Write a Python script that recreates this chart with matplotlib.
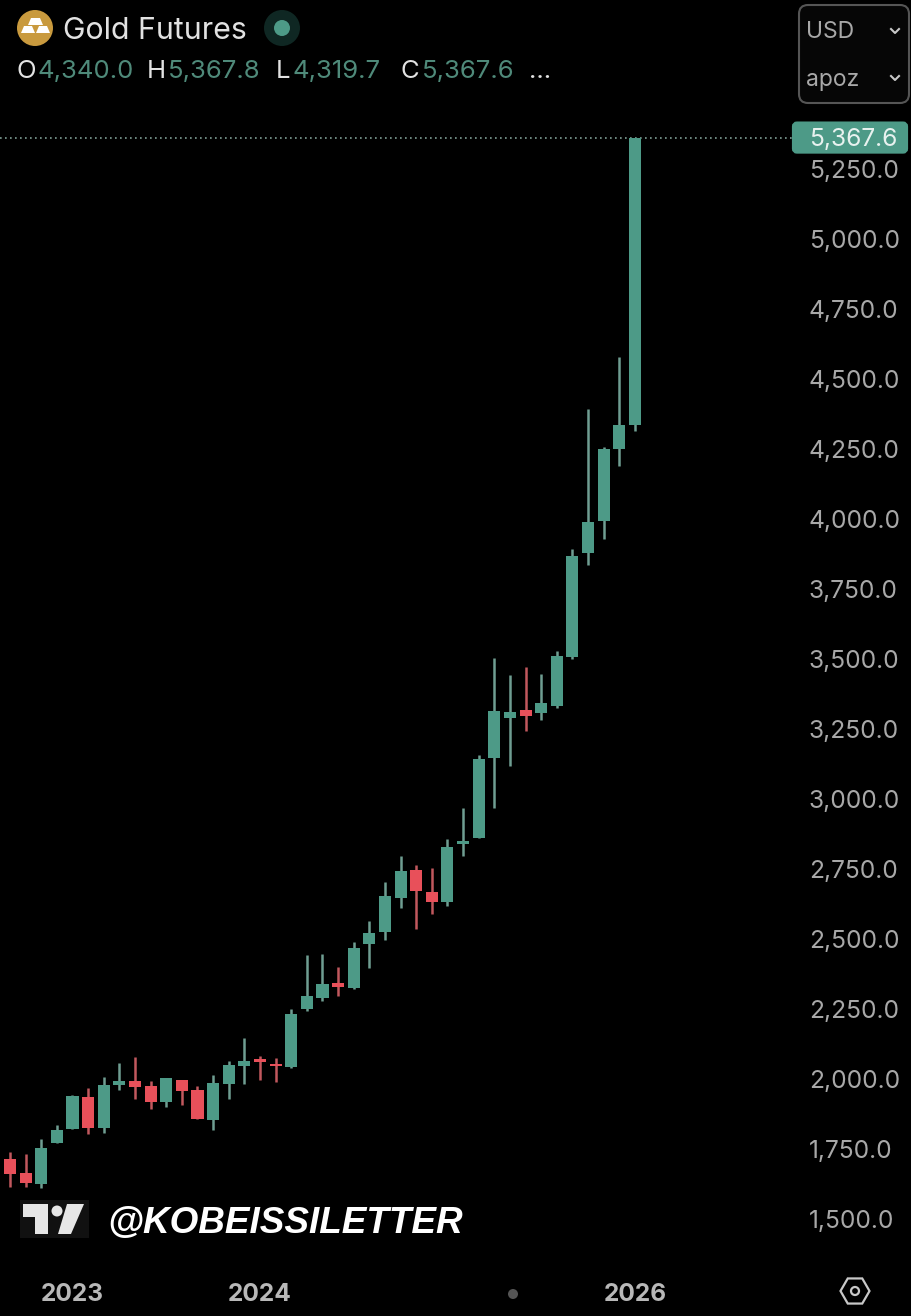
import matplotlib
matplotlib.use('Agg')
import math
import matplotlib.pyplot as plt
from matplotlib.patches import Circle, FancyBboxPatch, Polygon, Rectangle, RegularPolygon
from matplotlib.transforms import ScaledTranslation

# monthly candles
opens = [1720, 1670, 1630, 1778, 1828, 1941, 1830, 1984, 1998, 1980, 1923, 2002, 1966, 1859,
         1989, 2052, 2076, 2060, 2048, 2255, 2295, 2349, 2330, 2488, 2530, 2652, 2753, 2673,
         2638, 2845, 2866, 3152, 3295, 3323, 3313, 3338, 3513, 3884, 3998, 4255, 4340.0]
highs = [1744, 1738, 1790, 1841, 1948, 1972, 2011, 2061, 2084, 1998, 2008, 2002, 1979, 2020,
         2070, 2152, 2088, 2080, 2255, 2448, 2452, 2405, 2494, 2569, 2708, 2801, 2770, 2759,
         2863, 2973, 3161, 3508, 3448, 3477, 3452, 3534, 3898, 4398, 4263, 4584, 5367.8]
lows = [1621, 1621, 1617, 1778, 1828, 1810, 1814, 1966, 1935, 1898, 1906, 1913, 1863, 1823,
        1934, 1989, 2002, 1995, 2045, 2249, 2285, 2302, 2327, 2402, 2502, 2615, 2541, 2595,
        2623, 2802, 2866, 2973, 3123, 3248, 3288, 3330, 3505, 3841, 3934, 4195, 4319.7]
closes = [1666, 1634, 1759, 1823, 1945, 1830, 1983, 1998, 1977, 1923, 2008, 1963, 1863, 1991,
          2055, 2070, 2066, 2052, 2238, 2302, 2345, 2333, 2473, 2527, 2659, 2748, 2677, 2638,
          2834, 2854, 3147, 3320, 3316, 3302, 3348, 3516, 3873, 3995, 4255, 4341, 5367.6]

price_ticks = [1500, 1750, 2000, 2250, 2500, 2750, 3000, 3250, 3500, 3750, 4000, 4250, 4500, 4750, 5000, 5250]
year_pos = [4, 16, 40]
year_labels = ['2023', '2024', '2026']

GREEN = '#4d9a87'
GREEN_WICK = '#6f9e92'
GREEN_TEXT = '#4f8a7a'
RED = '#e8505a'
RED_WICK = '#c2585e'
GREY = '#a8a8a8'
LIGHT = '#e2e2e2'
FONT = 'Inter'

W, H = 912, 1316
fig = plt.figure(figsize=(W / 100, H / 100), dpi=100, facecolor='black')

# main chart, right edge is the price scale
ax = fig.add_axes([0, (H - 1260) / H, 792 / W, 1145 / H], facecolor='black')
for s in ax.spines.values():
    s.set_visible(False)

for i in range(len(opens)):
    up = closes[i] >= opens[i]
    ax.vlines(i, lows[i], highs[i], color=GREEN_WICK if up else RED_WICK, linewidth=1.8, zorder=2)
    ax.bar(i, abs(closes[i] - opens[i]), bottom=min(opens[i], closes[i]), width=0.77,
           color=GREEN if up else RED, linewidth=0, zorder=3)

ax.set_xlim(-0.64, 50.05)
ax.set_ylim(1358.9, 5448.2)
ax.yaxis.tick_right()
ax.set_yticks(price_ticks)
ax.set_yticklabels([f'{p:,.1f}' for p in price_ticks], fontsize=17.7, color=GREY, family=FONT)
ax.set_xticks(year_pos)
ax.set_xticklabels(year_labels, fontsize=17.6, color='#b8b8b8', family=FONT, fontweight='bold')
ax.tick_params(axis='y', length=0, pad=12)
ax.tick_params(axis='x', length=0, pad=16.5)

# scale labels sit a little above their price level
up_shift = ScaledTranslation(0, 1.5 / 100, fig.dpi_scale_trans)
for label in ax.get_yticklabels():
    label.set_transform(label.get_transform() + up_shift)

ax.axhline(closes[-1], color='#7f9f95', linewidth=1.2, linestyle=(0, (1, 2)), zorder=1)

# overlay in pixel coordinates for header, logo and buttons
ov = fig.add_axes([0, 0, 1, 1], facecolor='none')
ov.set_xlim(0, W)
ov.set_ylim(H, 0)
ov.axis('off')

# current price tag
tag_y = ov.transData.inverted().transform(ax.transData.transform((0, closes[-1])))[1]
ov.add_patch(FancyBboxPatch((794, tag_y - 14), 112, 28, boxstyle='round,pad=0,rounding_size=3',
                            facecolor=GREEN, linewidth=3, edgecolor=GREEN))
ov.text(897, tag_y + 1.5, f'{closes[-1]:,.1f}', color='#e8f2ef', fontsize=17.7, family=FONT, ha='right', va='center')

# symbol header
ov.add_patch(Circle((35, 28), 18, facecolor='#c99a3e', linewidth=0))
for x0, x1, y0, y1 in [(28, 43, 18, 25), (21, 35, 26, 33), (36, 50, 26, 33)]:
    ov.add_patch(Polygon([(x0 + 3, y0), (x1 - 3, y0), (x1, y1), (x0, y1)], facecolor='white', linewidth=0))
ov.text(63, 31, 'Gold Futures', color=LIGHT, fontsize=21.8, family=FONT, va='center')
ov.add_patch(Circle((282, 28), 18, facecolor='#0f2723', linewidth=0))
ov.add_patch(Circle((282, 28), 8, facecolor=GREEN, linewidth=0))

ohlc_row = [(17, 'O', LIGHT), (38, '4,340.0', GREEN_TEXT), (147, 'H', LIGHT), (168, '5,367.8', GREEN_TEXT),
            (276, 'L', LIGHT), (293, '4,319.7', GREEN_TEXT), (401, 'C', LIGHT), (422, '5,367.6', GREEN_TEXT),
            (529, '...', LIGHT)]
for x, s, c in ohlc_row:
    ov.text(x, 72, s, color=c, fontsize=18.5, family=FONT, va='center')

# currency / unit buttons
ov.add_patch(FancyBboxPatch((799, 5), 110, 98, boxstyle='round,pad=0,rounding_size=9',
                            facecolor='#060606', edgecolor='#555555', linewidth=1.5))
ov.text(806, 32, 'USD', color=GREY, fontsize=16.5, family=FONT, va='center')
ov.text(806, 80, 'apoz', color=GREY, fontsize=16.5, family=FONT, va='center')
for y in [31, 78]:
    ov.plot([891, 895, 899], [y - 2, y + 2, y - 2], color='#c8c8c8', linewidth=1.5)

# tradingview mark and handle
ov.add_patch(Rectangle((20, 1200), 69, 38, facecolor='#111111', linewidth=0))
ov.add_patch(Polygon([(23, 1204), (48, 1204), (48, 1234), (35, 1234), (35, 1217), (23, 1217)], facecolor='#e6e6e6', linewidth=0))
ov.add_patch(Circle((57, 1211), 5.5, facecolor='#e6e6e6', linewidth=0))
ov.add_patch(Polygon([(67, 1204), (84, 1204), (71, 1234), (58, 1234)], facecolor='#e6e6e6', linewidth=0))
ov.text(107, 1223, '@KOBEISSILETTER', color='white', fontsize=26.6, family='Liberation Sans',
        fontweight='bold', fontstyle='italic', va='center')

# smudged-out year label leaves a small blob
ov.add_patch(Circle((513, 1294), 5, facecolor='#555555', linewidth=0))

# settings icon
ov.add_patch(RegularPolygon((855, 1291), 6, radius=14.5, orientation=math.pi / 2, facecolor='none',
                            edgecolor='#c8c8c8', linewidth=1.6))
ov.add_patch(Circle((855, 1291), 4, facecolor='none', edgecolor='#c8c8c8', linewidth=1.6))

fig.savefig('out.png', dpi=100, facecolor='black')
